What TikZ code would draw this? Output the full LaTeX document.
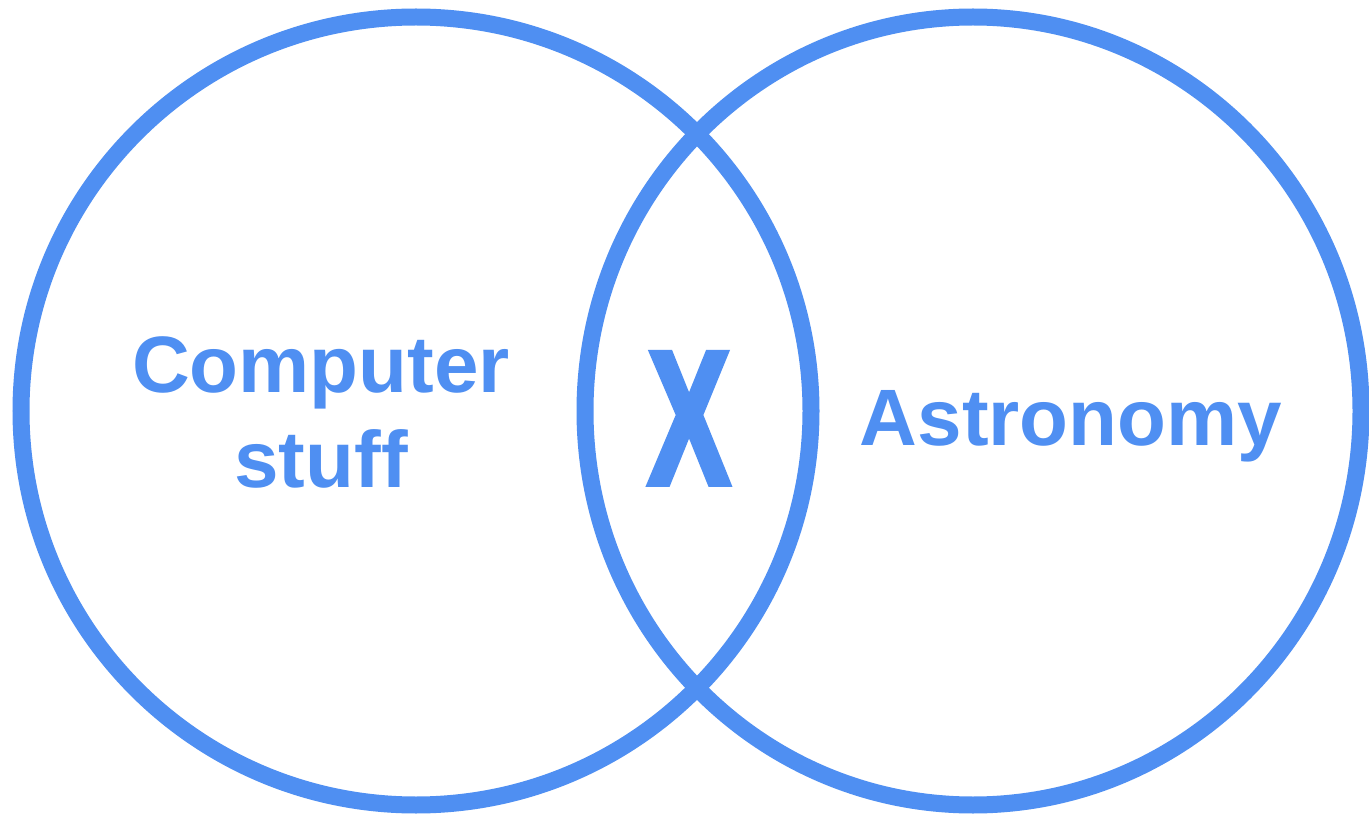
\documentclass[tikz,border=0pt]{standalone}
\usepackage{fontspec}
\setmainfont{Liberation Sans}
\newfontfamily\xfont{Liberation Sans}[BoldFeatures={FakeBold=4}]
\definecolor{vblue}{HTML}{4F8FF2}
\begin{document}
\begin{tikzpicture}[x=1pt,y=-1pt,
  ring/.style={draw=vblue,line width=17pt},
  lbl/.style={text=vblue,font=\bfseries\fontsize{80}{94}\selectfont,anchor=base,inner sep=0pt,align=center}]
\useasboundingbox (0,0) rectangle (1369,818);
\clip (0,0) rectangle (1369,818);
\fill[white] (0,0) rectangle (1369,818);
\draw[ring] (416,411) ellipse [x radius=395,y radius=394];
\draw[ring] (973,411) ellipse [x radius=388,y radius=394];
\node[lbl] (cs) at (321,393) {Computer};
\node[lbl] (st) at (321,487) {stuff};
\node[lbl] (as) at (1071,445) {Astronomy};
\node[text=vblue,font=\xfont\bfseries\fontsize{188}{188}\selectfont,anchor=base,inner sep=0pt,xscale=0.64] (x) at (689,483) {X};
\end{tikzpicture}
\end{document}
